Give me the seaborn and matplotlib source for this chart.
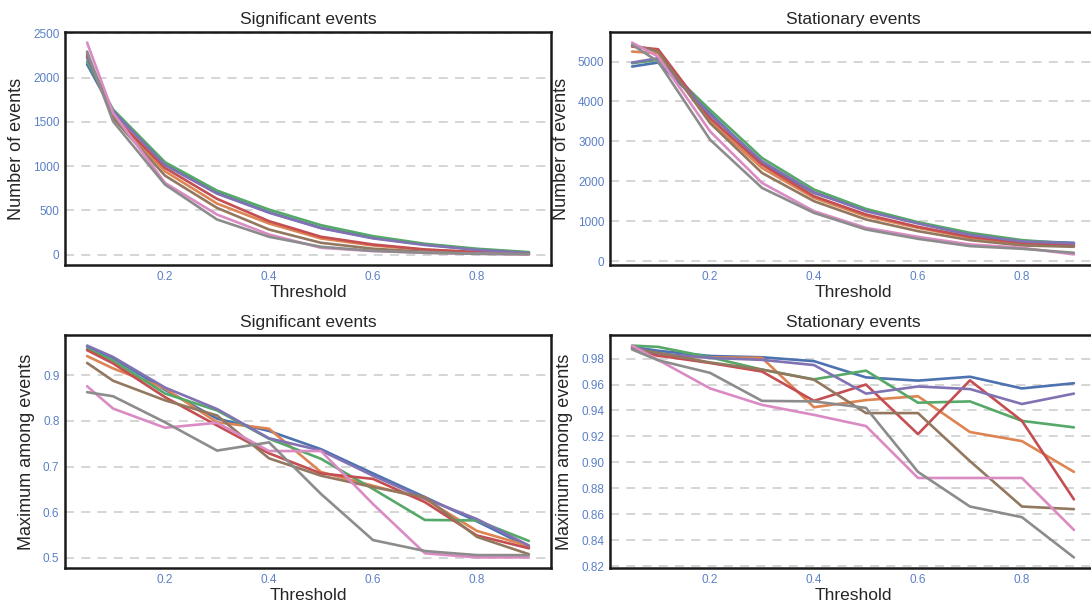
import matplotlib
matplotlib.use("Agg")
import matplotlib.pyplot as plt
import pandas as pd
import seaborn as sns

# ---------------- data ----------------
thresholds = [0.05, 0.1, 0.2, 0.3, 0.4, 0.5, 0.6, 0.7, 0.8, 0.9]
series_names = ["run 1", "run 2", "run 3", "run 4", "run 5", "run 6", "run 7", "run 8"]

# Significant events - number of events
sig_count_1 = [2150, 1610, 1029, 698, 480, 304, 191, 116, 60, 23]
sig_count_2 = [2230, 1560, 942, 578, 353, 184, 105, 56, 30, 11]
sig_count_3 = [2180, 1640, 1044, 724, 510, 334, 210, 124, 68, 30]
sig_count_4 = [2250, 1570, 980, 631, 379, 203, 116, 60, 30, 11]
sig_count_5 = [2220, 1620, 1010, 690, 475, 300, 185, 110, 55, 20]
sig_count_6 = [2275, 1543, 893, 529, 285, 135, 68, 34, 15, 8]
sig_count_7 = [2395, 1600, 811, 454, 229, 79, 41, 23, 11, 4]
sig_count_8 = [2294, 1505, 792, 398, 203, 90, 45, 22, 11, 6]

# Stationary events - number of events
sta_count_1 = [4875, 4975, 3708, 2458, 1708, 1275, 958, 667, 500, 458]
sta_count_2 = [5250, 5208, 3500, 2333, 1583, 1125, 833, 583, 433, 392]
sta_count_3 = [4958, 5040, 3790, 2583, 1792, 1308, 975, 708, 525, 433]
sta_count_4 = [5375, 5308, 3583, 2417, 1625, 1167, 858, 608, 458, 392]
sta_count_5 = [4975, 5083, 3667, 2500, 1725, 1250, 942, 658, 492, 442]
sta_count_6 = [5417, 5250, 3458, 2208, 1500, 1042, 750, 525, 392, 358]
sta_count_7 = [5475, 5125, 3250, 1958, 1250, 833, 608, 417, 333, 167]
sta_count_8 = [5420, 5000, 3042, 1833, 1208, 792, 558, 375, 308, 208]

# Significant events - maximum among events
sig_max_1 = [0.963, 0.938, 0.868, 0.805, 0.778, 0.738, 0.685, 0.633, 0.580, 0.524]
sig_max_2 = [0.942, 0.915, 0.871, 0.797, 0.783, 0.688, 0.658, 0.629, 0.559, 0.526]
sig_max_3 = [0.958, 0.932, 0.860, 0.823, 0.761, 0.717, 0.651, 0.583, 0.582, 0.537]
sig_max_4 = [0.955, 0.926, 0.852, 0.790, 0.729, 0.685, 0.673, 0.622, 0.549, 0.521]
sig_max_5 = [0.965, 0.940, 0.873, 0.826, 0.762, 0.735, 0.680, 0.630, 0.585, 0.527]
sig_max_6 = [0.927, 0.888, 0.845, 0.812, 0.718, 0.680, 0.655, 0.633, 0.546, 0.508]
sig_max_7 = [0.876, 0.827, 0.785, 0.796, 0.734, 0.734, 0.618, 0.510, 0.501, 0.501]
sig_max_8 = [0.863, 0.854, 0.797, 0.735, 0.753, 0.640, 0.539, 0.515, 0.506, 0.506]

# Stationary events - maximum among events
sta_max_1 = [0.989, 0.986, 0.982, 0.981, 0.978, 0.9655, 0.963, 0.966, 0.957, 0.961]
sta_max_2 = [0.988, 0.982, 0.981, 0.9805, 0.9425, 0.948, 0.951, 0.9234, 0.9164, 0.8927]
sta_max_3 = [0.990, 0.989, 0.981, 0.9715, 0.964, 0.9707, 0.946, 0.947, 0.932, 0.927]
sta_max_4 = [0.988, 0.9823, 0.9766, 0.970, 0.9474, 0.960, 0.9218, 0.9632, 0.932, 0.8715]
sta_max_5 = [0.989, 0.984, 0.9805, 0.979, 0.975, 0.953, 0.9585, 0.9565, 0.945, 0.953]
sta_max_6 = [0.9875, 0.9844, 0.977, 0.9715, 0.9637, 0.938, 0.938, 0.901, 0.866, 0.864]
sta_max_7 = [0.990, 0.979, 0.957, 0.9443, 0.9366, 0.928, 0.888, 0.888, 0.888, 0.848]
sta_max_8 = [0.987, 0.9787, 0.969, 0.9474, 0.947, 0.942, 0.8927, 0.866, 0.8578, 0.8268]

panels = [
    ("Significant events", "Number of events",
     [sig_count_1, sig_count_2, sig_count_3, sig_count_4,
      sig_count_5, sig_count_6, sig_count_7, sig_count_8]),
    ("Stationary events", "Number of events",
     [sta_count_1, sta_count_2, sta_count_3, sta_count_4,
      sta_count_5, sta_count_6, sta_count_7, sta_count_8]),
    ("Significant events", "Maximum among events",
     [sig_max_1, sig_max_2, sig_max_3, sig_max_4,
      sig_max_5, sig_max_6, sig_max_7, sig_max_8]),
    ("Stationary events", "Maximum among events",
     [sta_max_1, sta_max_2, sta_max_3, sta_max_4,
      sta_max_5, sta_max_6, sta_max_7, sta_max_8]),
]

# ---------------- style ----------------
sns.set_theme(style="white")
plt.rcParams["font.family"] = ["Liberation Sans", "DejaVu Sans"]

palette = sns.color_palette("deep", 8)
tick_color = "#5b80c6"
label_color = "#262626"

W, H = 1091, 608
fig = plt.figure(figsize=(W / 100, H / 100), dpi=100)

ax_w = 486 / W
ax_h = 233 / H
lefts = [65 / W, 610 / W]
bottoms = [1 - 265 / H, 1 - 568 / H]
positions = [
    [lefts[0], bottoms[0], ax_w, ax_h],
    [lefts[1], bottoms[0], ax_w, ax_h],
    [lefts[0], bottoms[1], ax_w, ax_h],
    [lefts[1], bottoms[1], ax_w, ax_h],
]

for pos, (title, ylabel, series) in zip(positions, panels):
    ax = fig.add_axes(pos)
    rows = []
    for name, vals in zip(series_names, series):
        for t, v in zip(thresholds, vals):
            rows.append({"Threshold": t, "value": v, "series": name})
    df = pd.DataFrame(rows)
    sns.lineplot(data=df, x="Threshold", y="value", hue="series",
                 hue_order=series_names, palette=palette, linewidth=1.9,
                 legend=False, ax=ax, estimator=None, sort=True)
    ax.set_title(title, fontsize=12.5, color=label_color, pad=6)
    ax.set_xlabel("Threshold", fontsize=12.5, color=label_color, labelpad=2)
    ax.set_ylabel(ylabel, fontsize=13, color=label_color, labelpad=6)
    ax.set_axisbelow(True)
    ax.yaxis.grid(True, linestyle=(0, (5, 4)), color="#d2d2d2", linewidth=1.3)
    ax.xaxis.grid(False)
    ax.tick_params(axis="both", length=0, labelsize=8.5,
                   labelcolor=tick_color, pad=4)
    for sp in ax.spines.values():
        sp.set_visible(True)
        sp.set_color("#1a1a1a")
        sp.set_linewidth(1.8)

fig.savefig("out.png", dpi=100)
